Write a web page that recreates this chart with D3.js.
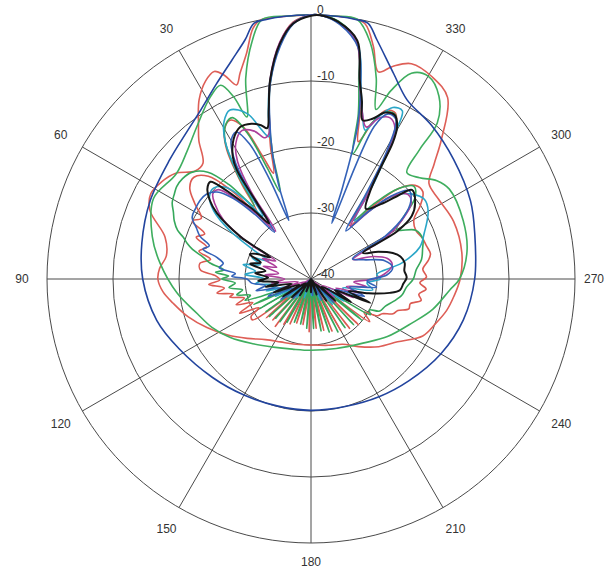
<!DOCTYPE html>
<html>
<head>
<meta charset="utf-8">
<script src="https://cdn.jsdelivr.net/npm/d3@7"></script>
<style>
  body { margin: 0; background: #fff; }
  svg { display: block; }
  text { font-family: "Liberation Sans", Arial, sans-serif; }
</style>
</head>
<body>
<div id="chart"></div>
<script>
// Polar radiation pattern, angle in degrees (counter-clockwise from top), level in dB

const angleTicks = [0, 30, 60, 90, 120, 150, 180, 210, 240, 270, 300, 330];
const angleLabels = ["", "30", "60", "90", "120", "150", "180", "210", "240", "270", "300", "330"];
const levelTicks = [0, -10, -20, -30, -40];
const levelLabels = ["0", "-10", "-20", "-30", "-40"];

// each series: [angle, dB]
const redOuter = [[0,0],[6,0],[11,0],[13,-1],[16,-4.5],[19,-7],[21,-8.5],[23,-6.5],[25,-5.3],[28,-6],[32,-8],[36,-11],[39,-13],[43,-16],[47,-16],[52,-14],[57,-13],[62,-12.5],[67,-13.5],[74,-17],[81,-17.8],[86,-17],[90,-16.8],[95,-17.5],[100,-18.8],[107,-20.5],[115,-22.6],[124,-24.8],[133,-26.8],[143,-28.5],[154,-29.4],[165,-29.8],[180,-30],[195,-29.6],[206,-29],[215,-27.5],[225,-25.5],[234,-23.8],[243,-21],[250,-20],[257,-18.9],[263,-18.2],[270,-17.4],[280,-16.8],[292,-16.7],[302,-17.2],[309,-17],[313,-14.5],[317,-11],[323,-5.6],[329,-4.3],[335,-4],[339,-5.5],[342,-7],[345,-3.5],[348,-0.5],[351,0],[355,0]];

const greenOuter = [[0,0],[5,0],[10.7,0],[14,-3],[18,-8],[21.6,-13.6],[23,-10],[25,-7.6],[29,-8.5],[37,-11.2],[44,-13],[52,-14.1],[63,-13.2],[75,-15.1],[84,-17],[96,-19.6],[107,-22],[116,-23.3],[126,-24.9],[138,-26.8],[151,-28.2],[165,-29],[180,-29.2],[200,-28.8],[219,-27.5],[233,-25.5],[247,-23.2],[256,-21],[265.5,-18.9],[270,-17.5],[280,-16],[291,-15.3],[303,-15],[308,-15.8],[313,-17.5],[318,-18.3],[320,-14.4],[321,-9.6],[325,-6.2],[330,-4.5],[334,-5.3],[337,-9],[339,-12.5],[342,-8],[346,-3],[350,0],[355,0]];

const blueOuter = [[0,0],[6,0],[10,-0.1],[12.6,-0.3],[15.4,-2.4],[20,-4.8],[26,-7.2],[33,-9.4],[40,-10.8],[50,-12],[64,-12.9],[78,-13.8],[90,-14.5],[105,-15.8],[118,-17.4],[135,-18.9],[150,-19.7],[165,-20.1],[180,-20.1],[195,-20],[210,-19.4],[224,-18.6],[240,-17.3],[255,-16.1],[270,-15.2],[285,-14.3],[296,-13.1],[310,-11.8],[322,-10.4],[331.8,-9.2],[338,-6.5],[344.6,-2.4],[347.4,-0.3],[350,-0.1],[354,0]];

const redInner = [[0,0],[4,-1],[7.5,-3.9],[11.6,-9.4],[14.5,-14.5],[17,-19],[19.5,-23],[21.5,-20],[24,-14.8],[27,-13],[30,-13.8],[33,-16.5],[36,-22],[39,-27],[42,-22],[45,-18],[49,-16.5],[53,-17],[57,-19],[61,-21],[64,-20],[67,-22.5],[70,-21.5],[73,-23.5],[76,-22.5],[79,-24.5],[82,-23],[85.4,-23.2],[88,-25.5],[90.6,-26.2],[93,-24.5],[96,-26.8],[98.5,-25.6],[101,-28],[102.5,-27.4],[106,-29.5],[109,-28],[112,-30.5],[115.6,-28],[119,-31],[122,-29.3],[125,-29.2],[128,-36],[131,-31],[134,-38],[137,-31.5],[140,-38.5],[143,-31],[146,-39],[149,-32],[152,-39.5],[155,-32.5],[158,-40],[162,-33],[166,-40],[170,-33],[174,-40],[178,-32],[182,-40],[186,-32.5],[190,-40],[194,-32],[198,-39.5],[202,-31.5],[206,-39],[210,-31],[214,-38.5],[218,-30.5],[222,-38],[226,-30],[230,-37],[234,-29],[238,-30.5],[241,-28.5],[244,-28],[247,-26.5],[250,-26],[253,-24.5],[256,-24.5],[259,-23],[262,-23.5],[265,-22.5],[268,-23.5],[271,-22.5],[275,-23],[279,-22],[282,-21.5],[286,-21.8],[290,-22],[295,-22.5],[300,-22],[304,-20],[308,-18.5],[312,-18.8],[316,-21],[320,-26],[324,-30],[327,-24],[330,-15],[333,-11.8],[336,-12],[338.5,-14.5],[341,-18],[343.5,-14],[346,-9.4],[349,-3.5],[354,-0.8],[358,0]];

const greenInner = [[0,0],[4,-1.1],[7.5,-4.1],[11.7,-9.6],[14.5,-14.8],[17,-20],[19.5,-26],[21.5,-22],[23.5,-16],[26,-12.8],[29,-13.3],[32,-15.5],[35,-20.5],[38,-26],[41,-21],[44,-17.5],[48,-15.8],[52,-15.3],[55.5,-15.3],[58,-15.6],[61.2,-16],[64,-16.8],[67,-17.5],[70,-18.5],[71.8,-19.6],[74,-20.5],[76,-21.5],[78.5,-23.3],[81,-24.5],[84,-26.7],[86,-25.5],[88,-27.5],[90,-26.5],[93,-28.5],[96,-27.5],[99,-29.5],[102,-28.5],[105,-30.5],[108,-29.5],[111,-36],[114,-30.5],[117,-37],[120,-31],[123,-38],[126,-31.5],[129,-38.5],[132,-31.5],[135,-39],[138,-32],[141,-39.5],[144,-32],[147,-40],[151,-32.5],[155,-40],[159,-33],[163,-40],[167,-33],[171,-40],[175,-32.5],[179,-40],[183,-32.5],[187,-40],[191,-32],[195,-40],[199,-31.5],[203,-39.5],[207,-31],[211,-39],[215,-31],[219,-38.5],[223,-30.5],[227,-37.5],[231,-30],[235,-36],[239,-29.5],[242,-30],[245,-28.5],[250,-28],[255,-27],[260,-26],[265,-25.5],[270,-24.5],[275,-24],[280,-23],[285,-22.5],[290,-22],[295,-22.5],[300,-25],[304,-23],[308,-20],[312,-19],[316,-21],[320,-25],[324,-29],[327,-23],[330,-14.5],[333,-12],[336,-12.3],[339,-15],[341.5,-20],[344,-14],[346.5,-9],[349,-3.4],[354,-0.7],[358,0]];

const cyanLine = [[0,0],[4,-1.2],[7.5,-4.2],[11.8,-9.5],[14.5,-14.2],[16.5,-17.5],[18.5,-16],[21,-13.2],[25.6,-11.6],[29,-12.8],[32,-15.5],[35,-21],[37.5,-28],[40,-24],[43,-21],[47,-19.8],[51,-20.2],[55,-22],[59,-25.5],[63,-30],[67,-33],[70,-30.5],[74,-32],[78,-29.5],[82,-31.5],[86,-30],[90,-33],[95,-31.5],[100,-35],[105,-33],[110,-37],[116,-34],[122,-38],[128,-35.5],[134,-39],[142,-36.5],[150,-40],[160,-37],[170,-40],[182,-37.5],[194,-40],[204,-36.5],[212,-39.5],[220,-35],[228,-38.5],[236,-34],[242,-37],[248,-32.5],[254,-35],[260,-30.5],[266,-31.5],[270,-29.5],[274,-30],[280,-26],[286.4,-22.8],[292,-21.5],[300,-19.5],[305,-19],[310,-20],[315,-22],[319,-26],[323,-29],[327,-22],[330,-15],[331.5,-11],[334.5,-11.2],[337.5,-13.5],[340,-16],[342.5,-14],[345.5,-9.8],[348.5,-4],[353.5,-1],[358,0]];

const magentaLine = [[0,0],[4,-1.1],[7.5,-3.8],[11.5,-9],[14,-13.8],[16,-17],[18,-17.5],[21,-16],[25,-15.2],[29,-16.5],[32,-19],[34.5,-24],[36.5,-31],[40,-27],[43,-23.5],[46,-20.5],[49,-20.3],[52,-21.5],[56,-24],[60,-29],[63,-34],[67,-32],[71,-34.5],[75,-32.5],[80,-35],[85,-33],[90,-36],[96,-34],[102,-38],[108,-35],[114,-39],[120,-36.5],[128,-40],[136,-37.5],[146,-40],[160,-38.5],[175,-40],[190,-38.5],[205,-40],[215,-37],[224,-39.5],[232,-35.5],[240,-38],[246,-33],[250,-36],[254,-32],[258,-34.5],[262,-31.5],[266,-33.5],[270,-30.5],[275,-28.5],[280,-27.5],[285,-28],[290,-30],[295,-33],[299,-27],[303,-23.5],[307,-21],[311,-20.5],[315,-22],[319,-26],[323,-30],[326,-25],[328.5,-19],[331,-13.8],[334,-12.8],[337,-13.5],[340,-15.5],[343,-13.5],[346,-9.5],[349,-3.6],[354,-0.9],[358,0]];

const blueInner = [[0,0],[4,-1.3],[7.5,-4.4],[11.8,-9.8],[14.5,-15],[17,-20],[19,-25],[20.7,-30.5],[22.5,-24],[24.5,-17.5],[27,-15],[30,-15.8],[33,-19],[35.5,-25],[38,-31],[41,-27],[44,-23],[47.2,-20.6],[51,-19.6],[54.6,-19.4],[58.5,-19.5],[62.5,-19.7],[66,-21],[69,-22],[72,-23.8],[74.5,-23],[77,-25.3],[80,-26.5],[83,-26],[86,-28.5],[88,-28],[90,-30.3],[94,-31],[98,-33],[102,-31.5],[106,-35],[112,-33],[118,-37],[124,-34.5],[130,-38.5],[138,-36],[146,-40],[158,-38],[172,-40],[186,-37.5],[198,-40],[208,-36.5],[216,-39],[224,-35],[232,-38],[240,-33.5],[246,-36],[252,-31.5],[258,-34],[263,-30],[268,-31.5],[273,-28.5],[278,-27.5],[284,-28.5],[290,-31.5],[296,-33],[300,-27],[304,-23],[308,-20.8],[312,-20],[316,-22.5],[320,-27],[324,-31],[327,-25],[329.5,-17],[332,-12.6],[335,-12.4],[337.5,-15],[339.5,-31],[341,-25.3],[343,-16],[345.5,-10],[348.5,-4.2],[353.5,-1.2],[358,0]];

const blackLine = [[0,-0.1],[4,-1.2],[7.5,-4],[11.6,-9.2],[14,-13.5],[16.2,-16.2],[18,-15.5],[21,-14.8],[25,-14.6],[29,-15.8],[32.6,-18],[34.2,-20],[35.4,-26],[37,-29.5],[40,-26],[42,-24],[44,-21],[46,-18.8],[49,-19.2],[52,-20.5],[55,-22.6],[59,-27.5],[62,-33],[65,-31],[68,-30],[72,-32],[76,-30.5],[80,-33],[84,-31.5],[88,-33.5],[92,-32],[96,-35],[100,-33],[104,-37],[110,-34],[116,-38],[122,-35],[128,-39],[134,-36],[140,-39],[146,-37],[152,-40],[160,-38],[170,-40],[180,-38],[190,-40],[200,-37.5],[208,-40],[215,-36],[222,-39],[228,-35],[234,-38],[240,-33],[245,-36],[248,-30.3],[252,-34],[256,-31],[260,-27.9],[263,-26.4],[267,-26],[271,-25.5],[275,-25.8],[279.7,-25.6],[284,-26],[287.6,-27],[292,-29],[296.6,-31.2],[299,-25],[302,-22],[306,-20.5],[311.4,-19.6],[314,-22],[317,-24.5],[322,-26.5],[326,-24],[328,-20],[329,-16],[330.5,-13.5],[333,-12.1],[336,-12.4],[339,-14],[342,-14.7],[344,-12],[346.2,-9],[349,-3.2],[354,-0.8],[358,0]];

const series = [
  { name: "redOuter", values: redOuter, color: "#de5f57", width: 1.6 },
  { name: "greenOuter", values: greenOuter, color: "#3fae5f", width: 1.6 },
  { name: "redInner", values: redInner, color: "#dc5a52", width: 1.6 },
  { name: "greenInner", values: greenInner, color: "#36a85b", width: 1.6 },
  { name: "blueOuter", values: blueOuter, color: "#22449e", width: 1.6 },
  { name: "cyan", values: cyanLine, color: "#2aa6c8", width: 1.6 },
  { name: "magenta", values: magentaLine, color: "#ad3f9b", width: 1.6 },
  { name: "blueInner", values: blueInner, color: "#3462b8", width: 1.6 },
  { name: "black", values: blackLine, color: "#161616", width: 2 }
];

const width = 606, height = 572;
const cx = 311, cy = 279, R = 264;

const svg = d3.select("#chart").append("svg")
  .attr("width", width)
  .attr("height", height);

const g = svg.append("g").attr("transform", "translate(" + cx + "," + cy + ")");

const r = d3.scaleLinear().domain([-40, 0]).range([0, R]).clamp(true);
const rad = deg => -deg * Math.PI / 180;

// grid circles
g.selectAll(".ring")
  .data(levelTicks.filter(d => d > -40))
  .enter().append("circle")
  .attr("r", d => r(d))
  .attr("fill", "none")
  .attr("stroke", "#4a4a4a")
  .attr("stroke-width", 1);

// spokes
g.selectAll(".spoke")
  .data(angleTicks)
  .enter().append("line")
  .attr("x1", 0).attr("y1", 0)
  .attr("x2", d => R * Math.sin(rad(d)))
  .attr("y2", d => -R * Math.cos(rad(d)))
  .attr("stroke", "#4a4a4a")
  .attr("stroke-width", 1);

// pattern curves
const line = d3.lineRadial()
  .angle(d => rad(d[0]))
  .radius(d => r(d[1]))
  .curve(d3.curveCatmullRomClosed.alpha(0.5));

g.selectAll(".pattern")
  .data(series)
  .enter().append("path")
  .attr("d", d => line(d.values))
  .attr("fill", "none")
  .attr("stroke", d => d.color)
  .attr("stroke-width", d => d.width)
  .attr("stroke-linejoin", "round");

// angle labels (270 and 180 pulled in a little so they stay inside the page)
g.selectAll(".alabel")
  .data(angleTicks.map((a, i) => ({ a: a, t: angleLabels[i] })).filter(d => d.t))
  .enter().append("text")
  .attr("x", d => d.a === 270 ? 293 : 289 * Math.sin(rad(d.a)))
  .attr("y", d => d.a === 180 ? 287 : -289 * Math.cos(rad(d.a)))
  .attr("dy", d => d.a === 180 ? "0" : "0.35em")
  .attr("text-anchor", d => d.a === 270 ? "end" : "middle")
  .style("font-size", "12px")
  .attr("fill", "#333")
  .text(d => d.t);

// level labels
g.selectAll(".rlabel")
  .data(levelTicks.map((v, i) => ({ v: v, t: levelLabels[i] })))
  .enter().append("text")
  .attr("x", 6)
  .attr("y", d => -r(d.v))
  .attr("dy", "-1")
  .style("font-size", "12px")
  .attr("fill", "#333")
  .text(d => d.t);
</script>
</body>
</html>
